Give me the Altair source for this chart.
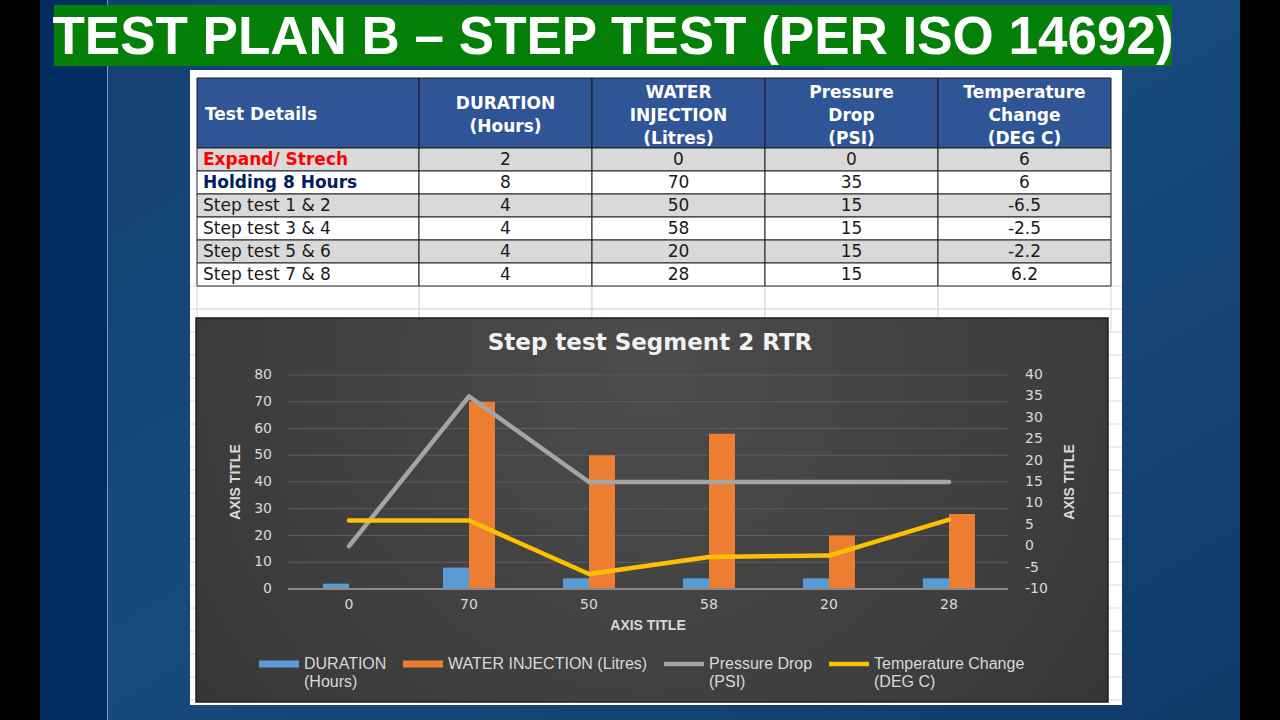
import altair as alt
import pandas as pd

# ---------------- data ----------------
slide_title = "TEST PLAN B – STEP TEST (PER ISO 14692)"
first_header = "Test Details"
value_headers = ["DURATION\n(Hours)", "WATER\nINJECTION\n(Litres)", "Pressure\nDrop\n(PSI)", "Temperature\nChange\n(DEG C)"]
test_details = ["Expand/ Strech", "Holding 8 Hours", "Step test 1 & 2", "Step test 3 & 4", "Step test 5 & 6", "Step test 7 & 8"]
duration_hours = [2, 8, 4, 4, 4, 4]
water_litres = [0, 70, 50, 58, 20, 28]
pressure_psi = [0, 35, 15, 15, 15, 15]
temperature_c = [6, 6, -6.5, -2.5, -2.2, 6.2]

chart_title = "Step test Segment 2 RTR"
axis_title = "AXIS TITLE"
series_names = ["DURATION (Hours)", "WATER INJECTION (Litres)", "Pressure Drop (PSI)", "Temperature Change (DEG C)"]
legend_labels = ["DURATION\n(Hours)", "WATER INJECTION (Litres)\n", "Pressure Drop\n(PSI)", "Temperature Change\n(DEG C)"]
series_colors = ["#5b9bd5", "#ed7d31", "#a5a5a5", "#ffc000"]
left_ticks = [0, 10, 20, 30, 40, 50, 60, 70, 80]
right_ticks = [-10, -5, 0, 5, 10, 15, 20, 25, 30, 35, 40]
sheet_rows = [6, 7, 8, 9, 10, 11, 12, 13, 14, 15, 16, 17, 18, 19, 20, 21, 22, 23, 24]

# ---------------- tables built from the lists ----------------
categories = [f"{w:g}" for w in water_litres]
one = pd.DataFrame({"k": [0]})
rows_df = pd.DataFrame({"row": test_details, "idx": list(range(len(test_details)))})
rows_df["parity"] = rows_df["idx"] % 2
cells = []
for i, r in enumerate(test_details):
    vals = [duration_hours[i], water_litres[i], pressure_psi[i], temperature_c[i]]
    for h, v in zip(value_headers, vals):
        cells.append({"row": r, "col": h, "text": f"{v:g}", "parity": i % 2})
cells_df = pd.DataFrame(cells)
header_df = pd.DataFrame({"col": value_headers})
header_df["nlines"] = [h.count("\n") + 1 for h in value_headers]
sheet_df = pd.DataFrame({"k": sheet_rows})
sheet_cells = pd.DataFrame([{"k": k, "k2": k + 1, "col": h} for k in sheet_rows[:2] for h in value_headers])
chart_df = pd.DataFrame({
    "cat": categories, "idx": list(range(len(categories))),
    series_names[0]: duration_hours, series_names[1]: water_litres,
    series_names[2]: pressure_psi, series_names[3]: temperature_c,
})
left_df = pd.DataFrame({"t": left_ticks, "lab": [f"{t:g}" for t in left_ticks]})
right_df = pd.DataFrame({"t": right_ticks, "lab": [f"{t:g}" for t in right_ticks]})
cat_df = pd.DataFrame({"cat": categories})
legend_df = pd.DataFrame({"series": legend_labels})

# ---------------- scales ----------------
row_y = alt.Scale(domain=test_details, range=[148, 286], paddingInner=0, paddingOuter=0)
col_x = alt.Scale(domain=value_headers, range=[419, 1111], paddingInner=0, paddingOuter=0)
sheet_y = alt.Scale(domain=[0, 6], range=[148, 286])
fill_scale = alt.Scale(domain=[0, 1], range=["#d9d9d9", "#ffffff"])
cat_x = alt.Scale(domain=categories, range=[289, 1009], paddingInner=0.567, paddingOuter=0.2835)
left_y = alt.Scale(domain=[0, 80], range=[589, 375])
right_y = alt.Scale(domain=[-10, 40], range=[589, 375])
series_scale = alt.Scale(domain=series_names, range=series_colors)
# first line of a centred header block: 2 lines -> ~104, 3 lines -> ~93
header_line_y = alt.Scale(domain=[2, 3], range=[104, 92.5])

FONT_T = "DejaVu Sans"
FONT_C = "Liberation Sans"
LABEL = "#d9d9d9"

def deco(x, x2, y, y2, **kw):
    return alt.Chart(one).mark_rect(**kw).encode(
        x=alt.value(x), x2=alt.value(x2), y=alt.value(y), y2=alt.value(y2))

layers = []

# slide background
layers.append(deco(40, 1240, 0, 720, color=alt.LinearGradient(
    gradient="linear", x1=0, y1=0, x2=1, y2=1,
    stops=[alt.GradientStop(color="#12406f", offset=0),
           alt.GradientStop(color="#184a7d", offset=0.5),
           alt.GradientStop(color="#103a68", offset=1)])))
layers.append(deco(40, 107, 0, 720, color="#002d62"))
layers.append(alt.Chart(one).mark_rule(color="#7c9cc8", strokeWidth=1).encode(
    x=alt.value(107.5), y=alt.value(0), y2=alt.value(720)))

# green banner
layers.append(deco(54, 1172, 5, 66, color="#047f08"))
layers.append(alt.Chart(one).mark_text(
    text=slide_title, font=FONT_C, fontWeight="bold", fontSize=53, color="#ffffff",
    align="center", baseline="middle").encode(x=alt.value(613), y=alt.value(38)))

# white spreadsheet panel
layers.append(deco(190, 1122, 70, 705, color="#ffffff"))
layers.append(alt.Chart(sheet_df).mark_rule(color="#dadada", strokeWidth=1).encode(
    x=alt.value(190), x2=alt.value(1122), y=alt.Y("k:Q", scale=sheet_y, axis=None)))
layers.append(alt.Chart(sheet_cells).mark_rect(fill="#ffffff", stroke="#d6d6d6", strokeWidth=1).encode(
    x=alt.X("col:N", scale=col_x, axis=None),
    y=alt.Y("k:Q", scale=sheet_y, axis=None), y2="k2:Q"))
layers.append(alt.Chart(sheet_cells).transform_filter(alt.FieldEqualPredicate(field="col", equal=value_headers[0])).mark_rect(
    fill="#ffffff", stroke="#d6d6d6", strokeWidth=1).encode(
    x=alt.value(197), x2=alt.value(419),
    y=alt.Y("k:Q", scale=sheet_y, axis=None), y2="k2:Q"))

# table header
layers.append(deco(197, 419, 78, 148, fill="#2f5597", stroke="#1a1a1a", strokeWidth=1))
layers.append(alt.Chart(header_df).mark_rect(fill="#2f5597", stroke="#1a1a1a", strokeWidth=1).encode(
    x=alt.X("col:N", scale=col_x, axis=None), y=alt.value(78), y2=alt.value(148)))
layers.append(alt.Chart(one).mark_text(
    text=first_header, font=FONT_T, fontWeight="bold", fontSize=17, color="#ffffff",
    align="left", baseline="middle").encode(x=alt.value(205), y=alt.value(115)))
layers.append(alt.Chart(header_df).mark_text(
    font=FONT_T, fontWeight="bold", fontSize=17, color="#ffffff", lineBreak="\n",
    lineHeight=23, align="center", baseline="middle").encode(
    x=alt.X("col:N", scale=col_x, axis=None),
    y=alt.Y("nlines:Q", scale=header_line_y, axis=None), text="col:N"))

# table body
layers.append(alt.Chart(rows_df).mark_rect(stroke="#222222", strokeWidth=1).encode(
    x=alt.value(197), x2=alt.value(419),
    y=alt.Y("row:N", scale=row_y, axis=None),
    fill=alt.Fill("parity:N", scale=fill_scale, legend=None)))
layers.append(alt.Chart(cells_df).mark_rect(stroke="#222222", strokeWidth=1).encode(
    x=alt.X("col:N", scale=col_x, axis=None),
    y=alt.Y("row:N", scale=row_y, axis=None),
    fill=alt.Fill("parity:N", scale=fill_scale, legend=None)))
for cond, col, weight in [("datum.idx == 0", "#ff0000", "bold"),
                          ("datum.idx == 1", "#002060", "bold"),
                          ("datum.idx > 1", "#1a1a1a", "normal")]:
    layers.append(alt.Chart(rows_df).transform_filter(cond).mark_text(
        font=FONT_T, fontWeight=weight, fontSize=17, color=col, align="left", baseline="middle").encode(
        x=alt.value(203), y=alt.Y("row:N", scale=row_y, axis=None), text="row:N"))
layers.append(alt.Chart(cells_df).mark_text(
    font=FONT_T, fontSize=17, color="#1a1a1a", align="center", baseline="middle").encode(
    x=alt.X("col:N", scale=col_x, axis=None),
    y=alt.Y("row:N", scale=row_y, axis=None), text="text:N"))

# legend carrier (hidden under chart background)
leg = alt.Legend(title=None, orient="none", legendX=259, legendY=644, direction="horizontal",
                 symbolSize=1600, symbolStrokeWidth=0, symbolOpacity=1,
                 labelExpr="split(datum.label, '\\n')", labelColor=LABEL, labelFont=FONT_C,
                 labelFontSize=16, labelLimit=400, labelOffset=5, columnPadding=16, padding=0)
paths = ["M-1,-0.17H1V0.17H-1Z", "M-1,-0.17H1V0.17H-1Z",
         "M-1,-0.11H1V0.11H-1Z", "M-1,-0.11H1V0.11H-1Z"]
layers.append(alt.Chart(legend_df).mark_point(filled=True, opacity=1).encode(
    x=alt.value(650), y=alt.value(500),
    color=alt.Color("series:N", scale=alt.Scale(domain=legend_labels, range=series_colors), legend=leg),
    shape=alt.Shape("series:N", scale=alt.Scale(domain=legend_labels, range=paths), legend=leg)))

# chart background
layers.append(deco(196, 1108, 318, 702, stroke="#1e1e1e", strokeWidth=1.5, color=alt.RadialGradient(
    gradient="radial", x1=0.5, y1=0.35, x2=0.5, y2=0.35, r1=0, r2=0.8,
    stops=[alt.GradientStop(color="#4c4c4c", offset=0),
           alt.GradientStop(color="#3c3c3c", offset=0.6),
           alt.GradientStop(color="#2c2c2c", offset=1)])))
layers.append(alt.Chart(one).mark_text(
    text=chart_title, font=FONT_T, fontWeight="bold", fontSize=23, color="#f2f2f2",
    align="center", baseline="middle").encode(x=alt.value(650), y=alt.value(343)))

# gridlines and axes
layers.append(alt.Chart(left_df).transform_filter("datum.t > 0").mark_rule(color="#5d5d5d", strokeWidth=1).encode(
    x=alt.value(288), x2=alt.value(1008), y=alt.Y("t:Q", scale=left_y, axis=None)))
layers.append(alt.Chart(left_df).mark_text(
    font=FONT_T, fontSize=14, color=LABEL, align="right", baseline="middle").encode(
    x=alt.value(272), y=alt.Y("t:Q", scale=left_y, axis=None), text="lab:N"))
layers.append(alt.Chart(right_df).mark_text(
    font=FONT_T, fontSize=14, color=LABEL, align="left", baseline="middle").encode(
    x=alt.value(1025), y=alt.Y("t:Q", scale=right_y, axis=None), text="lab:N"))

# bars
layers.append(alt.Chart(chart_df).transform_fold(series_names[:2], as_=["series", "value"]).mark_bar().encode(
    x=alt.X("cat:N", scale=cat_x, sort=categories, axis=None),
    xOffset=alt.XOffset("series:N", scale=alt.Scale(domain=series_names[:2], paddingInner=0, paddingOuter=0)),
    y=alt.Y("value:Q", scale=left_y, axis=None),
    color=alt.Color("series:N", scale=series_scale, legend=None)))
layers.append(alt.Chart(left_df).transform_filter("datum.t == 0").mark_rule(color="#8a8a8a", strokeWidth=2).encode(
    x=alt.value(288), x2=alt.value(1008), y=alt.Y("t:Q", scale=left_y, axis=None)))

# lines
layers.append(alt.Chart(chart_df).transform_fold(series_names[2:], as_=["series", "value"]).mark_line(
    strokeWidth=4.5, strokeCap="round", strokeJoin="round").encode(
    x=alt.X("cat:N", scale=cat_x, sort=categories, axis=None),
    y=alt.Y("value:Q", scale=right_y, axis=None),
    color=alt.Color("series:N", scale=series_scale, legend=None),
    order=alt.Order("idx:Q")))

# category labels and axis titles
layers.append(alt.Chart(cat_df).mark_text(
    font=FONT_T, fontSize=14, color=LABEL, align="center", baseline="middle").encode(
    x=alt.X("cat:N", scale=cat_x, sort=categories, axis=None), y=alt.value(605), text="cat:N"))
for x, y, ang in [(648, 626, 0), (236, 482, 270), (1070, 482, 270)]:
    layers.append(alt.Chart(one).mark_text(
        text=axis_title, font=FONT_C, fontWeight="bold", fontSize=14, color=LABEL,
        align="center", baseline="middle", angle=ang).encode(x=alt.value(x), y=alt.value(y)))

chart = alt.layer(*layers).resolve_scale(
    x="independent", y="independent", color="independent", fill="independent", shape="independent"
).properties(
    width=1280, height=720, autosize=alt.AutoSizeParams(type="none"), padding=0, background="#000000"
).configure_view(strokeWidth=0)

chart.save("out.html", embed_options={"renderer": "svg", "actions": False})
